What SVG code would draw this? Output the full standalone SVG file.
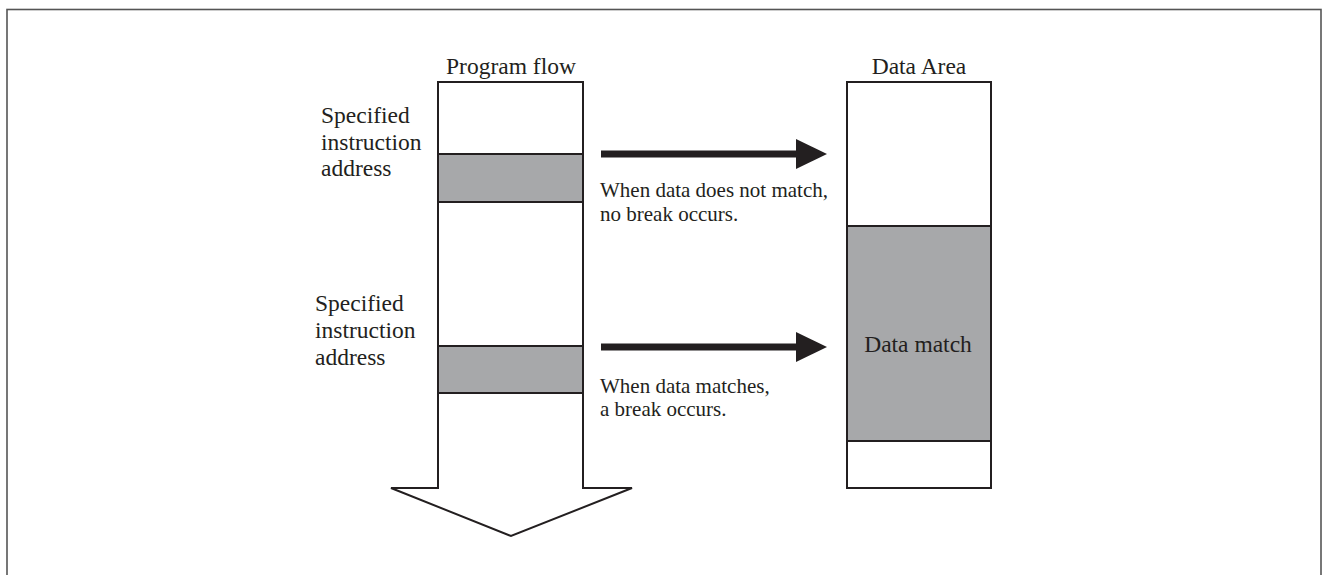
<svg xmlns="http://www.w3.org/2000/svg" width="1322" height="575" viewBox="0 0 1322 575">
<style>
.ln{fill:#fff;stroke:#231f20;stroke-width:2}
.g{fill:#a7a8aa;stroke:#231f20;stroke-width:2}
.t{font-family:"Liberation Serif","Times New Roman",serif;font-size:23.5px;fill:#231f20}
.d{font-family:"Liberation Serif","Times New Roman",serif;font-size:21px;fill:#231f20}
.ar{fill:#231f20}
</style>
<rect x="0" y="0" width="1322" height="575" fill="#fff"/>
<rect x="7" y="9.5" width="1314" height="600" fill="none" stroke="#555" stroke-width="1.6"/>
<g id="program-flow">
<polygon class="ln" points="438,82 583,82 583,488 632,488 511,536 391,488 438,488"/>
<text class="t" x="511" y="74" text-anchor="middle">Program flow</text>
</g>
<g id="instr1">
<rect class="g" x="438" y="154" width="145" height="48"/>
<text class="t" x="321" y="123">Specified</text>
<text class="t" x="321" y="150">instruction</text>
<text class="t" x="321" y="176">address</text>
</g>
<g id="instr2">
<rect class="g" x="438" y="346" width="145" height="47"/>
<text class="t" x="315" y="311">Specified</text>
<text class="t" x="315" y="338">instruction</text>
<text class="t" x="315" y="365">address</text>
</g>
<g id="data-area">
<rect class="ln" x="847" y="82" width="144" height="406"/>
<text class="t" x="919" y="74" text-anchor="middle">Data Area</text>
</g>
<g id="data-match">
<rect class="g" x="847" y="226" width="144" height="215"/>
<text class="t" x="918" y="352" text-anchor="middle">Data match</text>
</g>
<g id="connectors">
<rect class="ar" x="601" y="150.5" width="196" height="7"/>
<polygon class="ar" points="796,139 827,154 796,169"/>
<text class="d" x="600" y="197">When data does not match,</text>
<text class="d" x="600" y="221">no break occurs.</text>
<rect class="ar" x="601" y="343.5" width="196" height="7"/>
<polygon class="ar" points="796,332 827,347 796,362"/>
<text class="d" x="600" y="393">When data matches,</text>
<text class="d" x="600" y="416">a break occurs.</text>
</g>
</svg>
